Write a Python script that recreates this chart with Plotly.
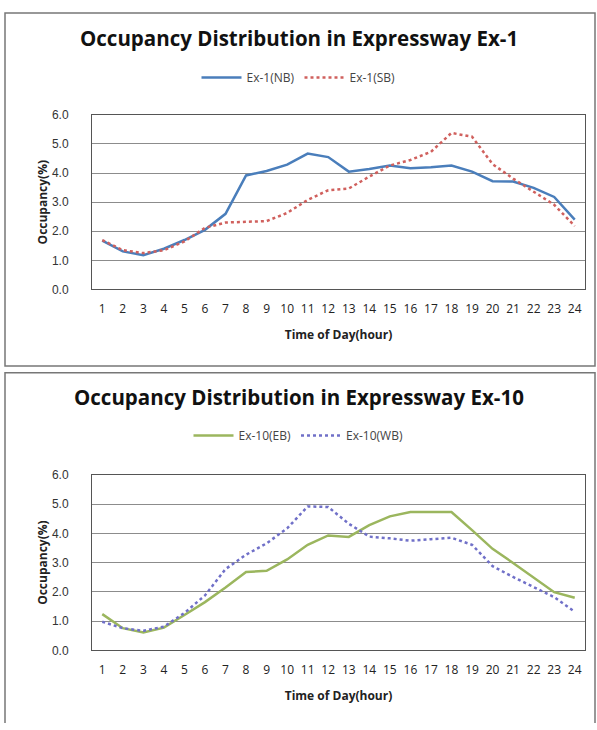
import plotly.graph_objects as go

hours = list(range(1, 25))
hour_labels = [str(h) for h in hours]

ex1_nb = [1.68, 1.31, 1.18, 1.40, 1.70, 2.05, 2.60, 3.92, 4.07, 4.29, 4.67, 4.55,
          4.05, 4.14, 4.26, 4.17, 4.20, 4.26, 4.05, 3.72, 3.71, 3.49, 3.18, 2.40]
ex1_sb = [1.70, 1.35, 1.25, 1.35, 1.65, 2.12, 2.30, 2.33, 2.35, 2.63, 3.08, 3.41,
          3.47, 3.88, 4.26, 4.45, 4.73, 5.38, 5.25, 4.31, 3.81, 3.36, 2.91, 2.18]
ex10_eb = [1.24, 0.76, 0.61, 0.78, 1.21, 1.65, 2.15, 2.68, 2.72, 3.11, 3.61, 3.93,
           3.88, 4.28, 4.58, 4.73, 4.73, 4.73, 4.11, 3.47, 2.99, 2.49, 1.99, 1.80]
ex10_wb = [0.98, 0.76, 0.67, 0.81, 1.28, 1.88, 2.78, 3.27, 3.66, 4.17, 4.92, 4.90,
           4.33, 3.89, 3.83, 3.75, 3.80, 3.85, 3.61, 2.88, 2.51, 2.16, 1.82, 1.32]

y_ticks = [0, 1, 2, 3, 4, 5, 6]
y_tick_labels = ["0.0", "1.0", "2.0", "3.0", "4.0", "5.0", "6.0"]

titles = ["Occupancy Distribution in Expressway Ex-1",
          "Occupancy Distribution in Expressway Ex-10"]

W, H = 597, 730
def px(x): return x / W
def py(y): return 1 - y / H

FONT = "Open Sans"
fig = go.Figure()

fig.add_trace(go.Scatter(x=hours, y=ex1_nb, mode="lines", name="Ex-1(NB)",
                         line=dict(color="#4A7EBB", width=2.5), xaxis="x", yaxis="y",
                         legend="legend"))
fig.add_trace(go.Scatter(x=hours, y=ex1_sb, mode="lines", name="Ex-1(SB)",
                         line=dict(color="#D0605D", width=2.5, dash="dot"), xaxis="x", yaxis="y",
                         legend="legend"))
fig.add_trace(go.Scatter(x=hours, y=ex10_eb, mode="lines", name="Ex-10(EB)",
                         line=dict(color="#9BB65E", width=2.5), xaxis="x2", yaxis="y2",
                         legend="legend2"))
fig.add_trace(go.Scatter(x=hours, y=ex10_wb, mode="lines", name="Ex-10(WB)",
                         line=dict(color="#7070C8", width=2.5, dash="dot"), xaxis="x2", yaxis="y2",
                         legend="legend2"))

xdom = [px(92), px(585)]
ydom1 = [py(288), py(110)]
ydom2 = [py(656), py(477)]

axis_x = dict(range=[0.5, 24.5], tickmode="array", tickvals=hours, ticktext=hour_labels,
              showgrid=False, zeroline=False, showline=True, linecolor="#555555", linewidth=1,
              mirror=True, ticks="", ticklabelstandoff=8,
              tickfont=dict(family=FONT, size=12, color="#222"),
              title=dict(text="<b>Time of Day(hour)</b>", font=dict(family=FONT, size=12, color="#222"),
                         standoff=14), fixedrange=True)
axis_y = dict(range=[0, 6], tickmode="array", tickvals=y_ticks, ticktext=y_tick_labels,
              showgrid=True, gridcolor="#8C8C8C", gridwidth=1, zeroline=False,
              showline=True, linecolor="#555555", linewidth=1, mirror=True, ticks="",
              ticklabelstandoff=20,
              tickfont=dict(family="Liberation Sans", size=12, color="#333"),
              title=dict(text="<b>Occupancy(%)</b>", font=dict(family=FONT, size=12, color="#222"),
                         standoff=1), fixedrange=True)

fig.update_layout(
    width=W, height=H,
    margin=dict(l=0, r=0, t=0, b=0),
    paper_bgcolor="white", plot_bgcolor="white",
    xaxis=dict(axis_x, domain=xdom, anchor="y"),
    yaxis=dict(axis_y, domain=ydom1, anchor="x"),
    xaxis2=dict(axis_x, domain=xdom, anchor="y2"),
    yaxis2=dict(axis_y, domain=ydom2, anchor="x2"),
    legend=dict(orientation="h", x=0.5, xanchor="center", y=py(72), yanchor="middle",
                itemwidth=40,
                font=dict(family=FONT, size=12, color="#444"), bgcolor="rgba(0,0,0,0)"),
    legend2=dict(orientation="h", x=0.5, xanchor="center", y=py(437), yanchor="middle",
                 itemwidth=40,
                 font=dict(family=FONT, size=12, color="#444"), bgcolor="rgba(0,0,0,0)"),
    showlegend=True,
)

for title, ty in zip(titles, [32, 398]):
    fig.add_annotation(text="<b>" + title + "</b>", x=0.5, y=py(ty), xref="paper", yref="paper",
                       showarrow=False, xanchor="center", yanchor="middle",
                       font=dict(family=FONT, size=20.5, color="#111"))

border = dict(color="#777777", width=1.5)
fig.add_shape(type="rect", xref="paper", yref="paper", x0=px(5), x1=px(595), y0=py(366), y1=py(6),
              line=border)
path2 = "M {a},{b} L {a},{c} L {d},{c} L {d},{b}".format(a=px(5), b=0.0, c=py(373), d=px(595))
fig.add_shape(type="path", xref="paper", yref="paper", path=path2, line=border)

fig.write_html("out.html", config={"displayModeBar": False},
               post_script="document.body.style.margin='0';document.body.style.overflow='hidden';")
